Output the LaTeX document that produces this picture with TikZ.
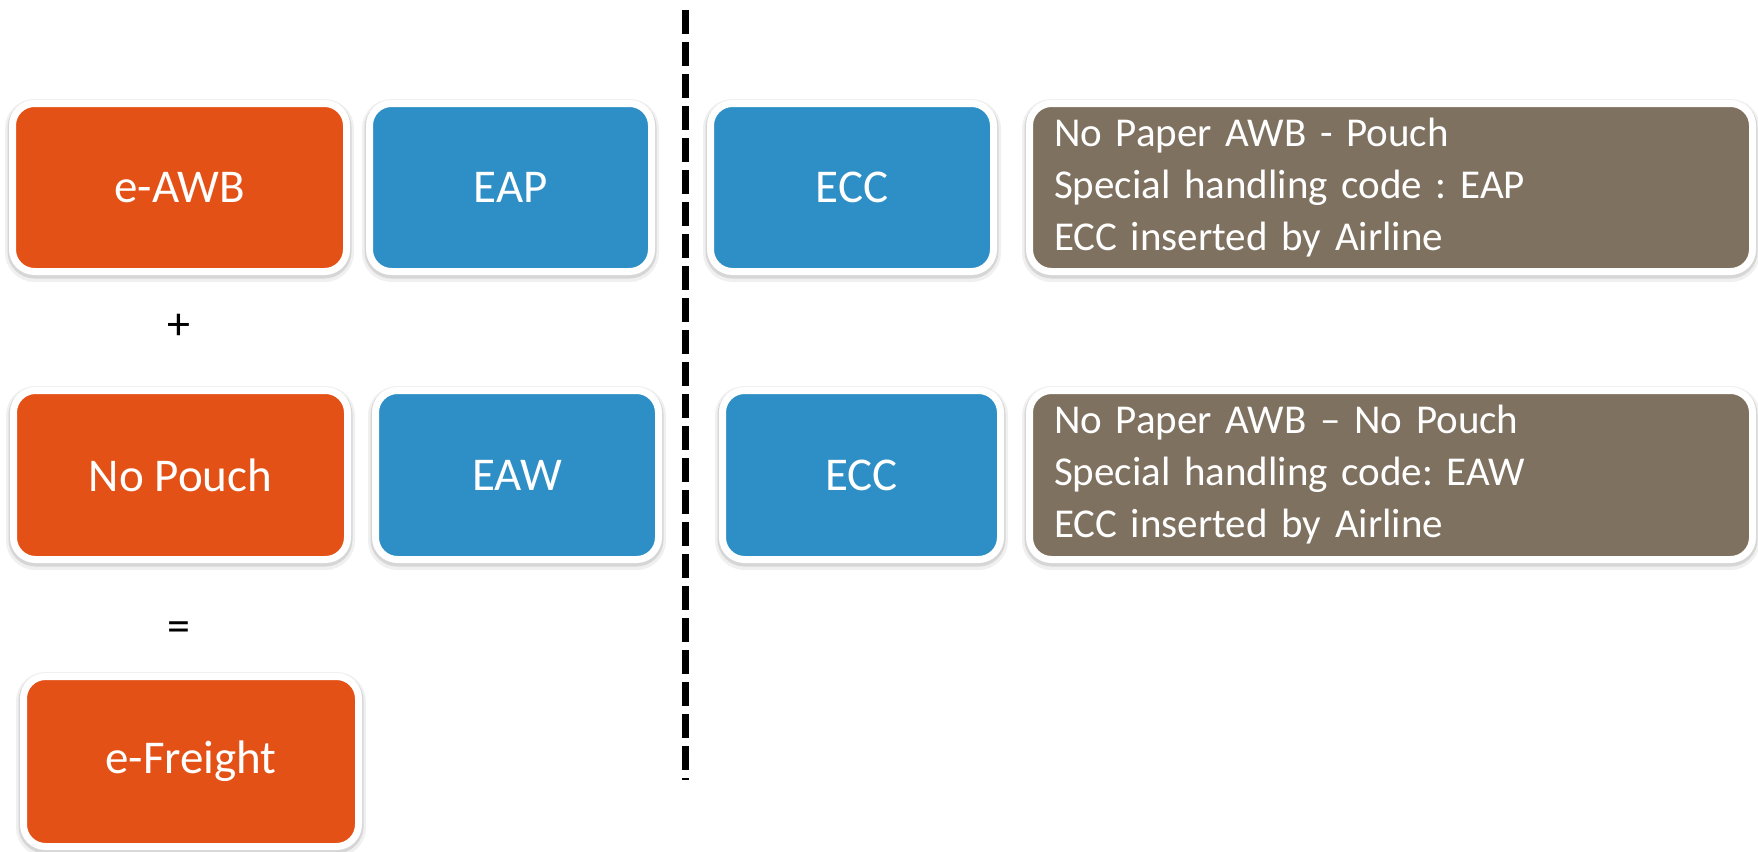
\documentclass[tikz,border=0pt]{standalone}
\usepackage{fontspec}
\setmainfont{Carlito}
\usepackage{xcolor}
\usepackage{tikz}
\frenchspacing

\definecolor{awborange}{RGB}{228,81,22}
\definecolor{codeblue}{RGB}{46,143,198}
\definecolor{notebrown}{RGB}{127,113,96}

\begin{document}
\begin{tikzpicture}[x=1pt,y=1pt,yscale=-1,xscale=1,
  panel/.style={rounded corners=22pt, draw=white, line width=7pt, text=white, inner sep=0pt,
    preaction={draw=black!6, line width=15pt, transform canvas={yshift=-3pt}},
    preaction={draw=black!16, line width=10pt, transform canvas={yshift=-2pt}},
    font=\fontsize{47}{56}\selectfont},
  orangebox/.style={panel, fill=awborange},
  bluebox/.style={panel, fill=codeblue},
  notebox/.style={panel, fill=notebrown, align=left, text width=674pt, inner xsep=24.5pt,
    font=\fontsize{41}{52}\selectfont},
  sign/.style={font=\fontsize{46}{50}\selectfont, text=black},
  divider/.style={line width=7pt, dash pattern=on 24pt off 8pt}]
\useasboundingbox (0,0) rectangle (1758,851);

%Shape: Rounded Rectangle (left column)
\node[orangebox, minimum width=334pt, minimum height=168pt] (eawb) at (179.5,187.5) {e-AWB};
\node[orangebox, minimum width=334pt, minimum height=169pt] (nopouch) at (180.5,475) {No Pouch};
\node[orangebox, minimum width=335pt, minimum height=170pt] (efreight) at (191,761.5) {e-Freight};

%Shape: Rounded Rectangle (codes)
\node[bluebox, minimum width=282pt, minimum height=168pt] (eap) at (510.5,187.5) {EAP};
\node[bluebox, minimum width=283pt, minimum height=169pt] (eaw) at (517,475) {EAW};
\node[bluebox, minimum width=283pt, minimum height=168pt] (ecca) at (852,187.5) {ECC};
\node[bluebox, minimum width=278pt, minimum height=169pt] (eccb) at (861.5,475) {ECC};

%Shape: Rounded Rectangle (notes)
\node[notebox, minimum width=723pt, minimum height=168pt] (notea) at (1391,187.5)
  {No Paper AWB - Pouch\\Special handling code : EAP\\ECC inserted by Airline};
\node[notebox, minimum width=723pt, minimum height=169pt] (noteb) at (1391,475)
  {No Paper AWB -- No Pouch\\Special handling code: EAW\\ECC inserted by Airline};

% Text Node
\node[sign] (plus) at (179,327) {+};
% Text Node
\node[sign] (equals) at (179,632) {=};

%Straight Lines
\coordinate (divtop) at (685,10);
\coordinate (divbot) at (685,780);
\draw[divider] (divtop) -- (divbot);

\end{tikzpicture}
\end{document}
